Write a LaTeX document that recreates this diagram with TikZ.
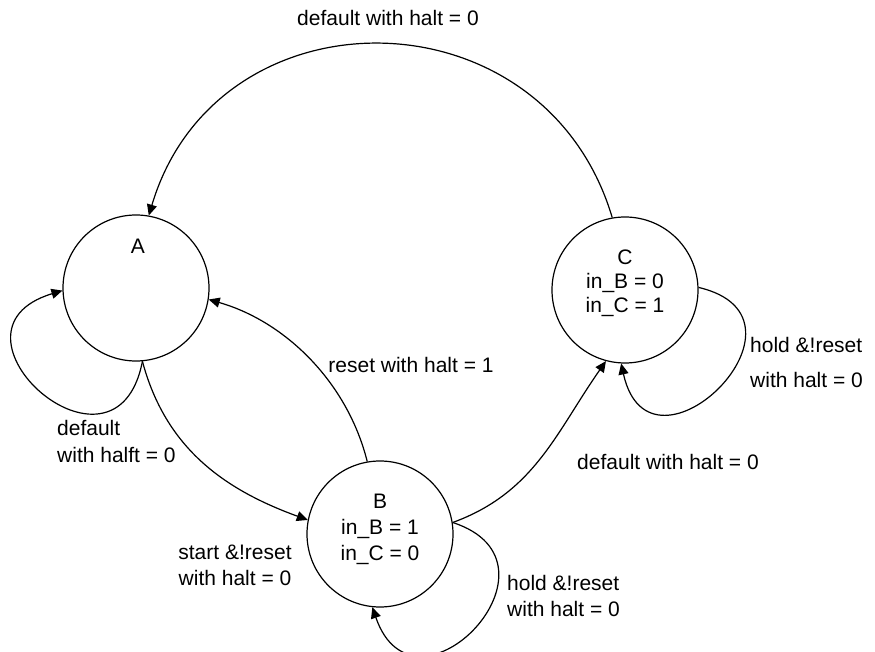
\documentclass[tikz,border=0pt]{standalone}
\usepackage{fontspec}
\setmainfont{Liberation Sans}
\usetikzlibrary{arrows.meta}
\begin{document}
\begin{tikzpicture}[x=1pt,y=1pt,
  state/.style={circle,draw,line width=1.2pt,minimum size=146pt,inner sep=0pt},
  conn/.style={line width=1.2pt,-{Triangle[length=11pt,width=10pt]}},
  lbl/.style={font=\fontsize{21}{26}\selectfont,inner sep=0pt,align=center}]
\useasboundingbox (0,0) rectangle (875,651);
\node[state] (A) at (136,363) {};
\node[state] (B) at (380,117) {};
\node[state] (C) at (625,361) {};
\node[lbl] (tA) at (138,405) {A};
\node[lbl] (tB) at (380,122) {B\\in\_B = 1\\in\_C = 0};
\node[lbl,font=\fontsize{21}{24}\selectfont] (tC) at (625,368) {C\\in\_B = 0\\in\_C = 1};
% edges
\draw[conn] (C.100) to[out=106.6,in=73.4,looseness=1.32] (A.80);
\draw[conn] (A.275) .. controls (116,153) and (-71,320) .. (A.182);
\draw[conn] (A.275) to[out=-75,in=160] (B.169);
\draw[conn] (B.100) to[out=104,in=-16,looseness=0.91] (A.-9);
\draw[conn] (B.9) to[out=20,in=235] (C.-105);
\draw[conn] (B.9) .. controls (577,88) and (415,-80) .. (B.264);
\draw[conn] (C.2) .. controls (829,333) and (650,157) .. (C.-93);
% labels
\node[lbl] (l1) at (388,633) {default with halt = 0};
\node[lbl,align=left,anchor=west,font=\fontsize{21}{27}\selectfont] (l2) at (57,209.5) {default\\with halft = 0};
\node[lbl] (l3) at (235,86) {start \&!reset\\with halt = 0};
\node[lbl] (l4) at (411,286) {reset with halt = 1};
\node[lbl] (l5) at (668,189) {default with halt = 0};
\node[lbl,align=left,anchor=west] (l6) at (507,55.5) {hold \&!reset\\with halt = 0};
\node[lbl,align=left,anchor=west,font=\fontsize{21}{35}\selectfont] (l7) at (750,288.5) {hold \&!reset\\with halt = 0};
\end{tikzpicture}
\end{document}
